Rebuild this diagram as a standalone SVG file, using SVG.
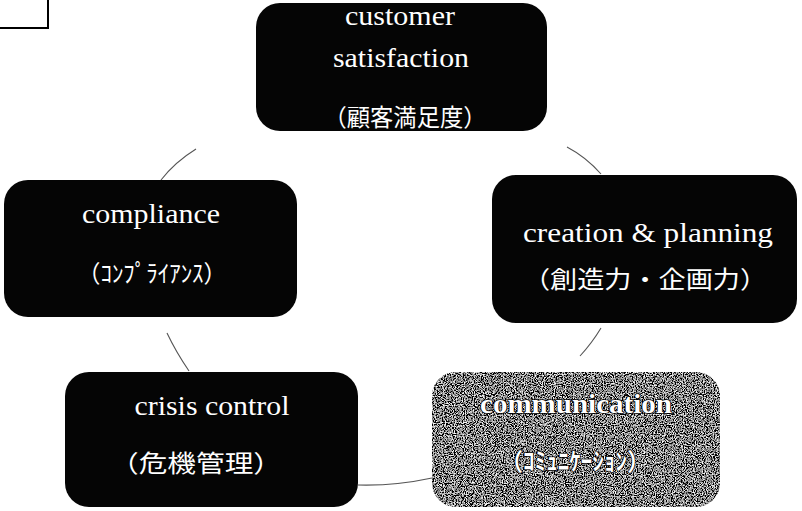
<svg xmlns="http://www.w3.org/2000/svg" width="802" height="511" viewBox="0 0 802 511">
<style>
.box{fill:#050505;}
.gray{fill:#858585;}
.en{font-family:"Liberation Serif","DejaVu Serif",serif;font-size:27px;fill:#ffffff;text-anchor:middle;}
.jp{font-family:"Noto Sans CJK JP","Liberation Serif",sans-serif;font-size:24px;fill:#ffffff;text-anchor:middle;}
.outl{stroke:#000;stroke-width:1.5px;paint-order:stroke;font-weight:bold;}
.conn{fill:none;stroke:#555;stroke-width:1.1px;}
</style>
<defs>
<filter id="speckle" x="0" y="0" width="100%" height="100%">
<feTurbulence type="fractalNoise" baseFrequency="0.9" numOctaves="2" seed="7" result="n"/>
<feColorMatrix in="n" type="saturate" values="0" result="g"/>
<feComponentTransfer in="g" result="c">
<feFuncR type="linear" slope="4" intercept="-1.75"/>
<feFuncG type="linear" slope="4" intercept="-1.75"/>
<feFuncB type="linear" slope="4" intercept="-1.75"/>
<feFuncA type="table" tableValues="1 1"/>
</feComponentTransfer>
<feComposite in="c" in2="SourceGraphic" operator="in"/>
</filter>
</defs>
<path d="M0,28 H48 V0" fill="none" stroke="#000" stroke-width="2"/>
<g id="connectors">
<path class="conn" d="M196,149 Q175,162 161,180"/>
<path class="conn" d="M567,147 Q586,157 601,174"/>
<path class="conn" d="M167,333 Q176,352 189,371"/>
<path class="conn" d="M601,328 Q592,343 580,356"/>
<path class="conn" d="M358,485 Q395,486 432,478"/>
</g>
<g id="customer-satisfaction">
<rect class="box" x="256" y="3" width="291" height="128" rx="24"/>
<text class="en" x="400" y="25" textLength="110" lengthAdjust="spacingAndGlyphs">customer</text>
<text class="en" x="401" y="67" textLength="136" lengthAdjust="spacingAndGlyphs">satisfaction</text>
<text class="jp" x="405" y="126" textLength="163" lengthAdjust="spacingAndGlyphs">（顧客満足度）</text>
</g>
<g id="compliance">
<rect class="box" x="4" y="180" width="293" height="137" rx="24"/>
<text class="en" x="151" y="223" textLength="138" lengthAdjust="spacingAndGlyphs">compliance</text>
<text class="jp" x="152" y="282" textLength="149" lengthAdjust="spacingAndGlyphs">（ｺﾝﾌﾟﾗｲｱﾝｽ）</text>
</g>
<g id="creation-planning">
<rect class="box" x="492" y="175" width="305" height="148" rx="24"/>
<text class="en" x="648" y="242" textLength="250" lengthAdjust="spacingAndGlyphs">creation &amp; planning</text>
<text class="jp" x="645" y="288" textLength="244" lengthAdjust="spacingAndGlyphs">（創造力・企画力）</text>
</g>
<g id="crisis-control">
<rect class="box" x="65" y="372" width="293" height="135" rx="24"/>
<text class="en" x="212" y="415" textLength="155" lengthAdjust="spacingAndGlyphs">crisis control</text>
<text class="jp" x="196" y="472" textLength="172" lengthAdjust="spacingAndGlyphs">（危機管理）</text>
</g>
<g id="communication">
<rect class="gray" x="432" y="372" width="288" height="135" rx="24" filter="url(#speckle)"/>
<text class="en outl" x="576" y="413" textLength="192" lengthAdjust="spacingAndGlyphs">communication</text>
<text class="jp outl" x="575" y="470" textLength="150" lengthAdjust="spacingAndGlyphs">（ｺﾐｭﾆｹｰｼｮﾝ）</text>
</g>
</svg>
